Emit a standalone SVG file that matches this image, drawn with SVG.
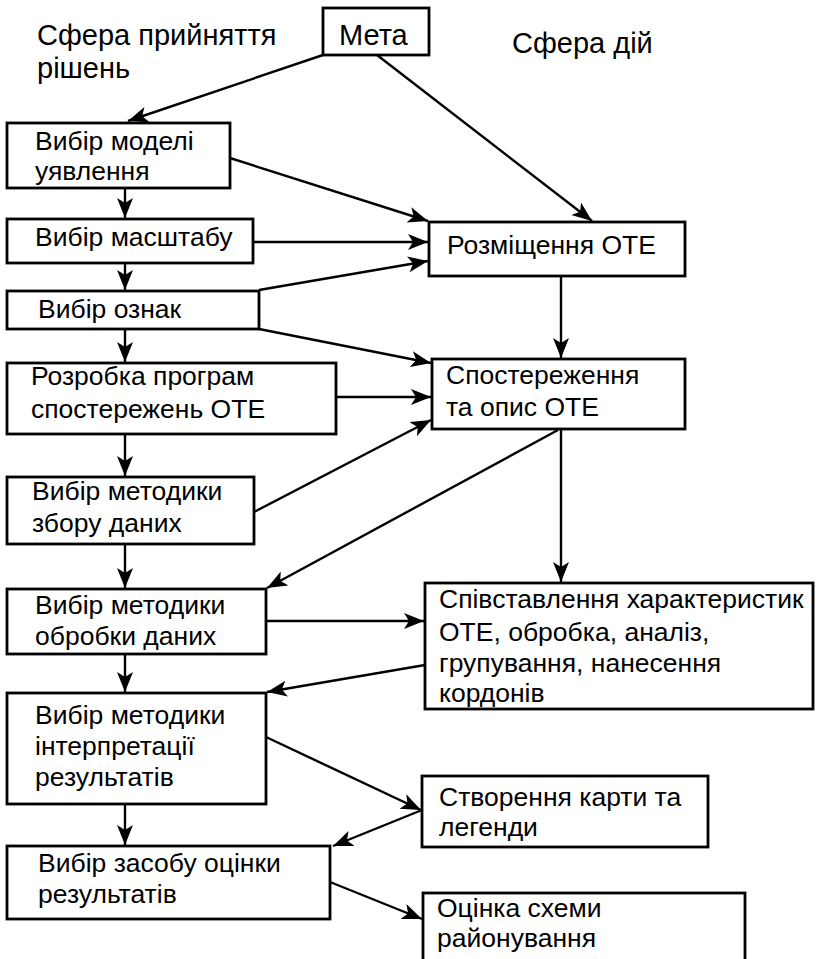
<svg xmlns="http://www.w3.org/2000/svg" width="816" height="959" viewBox="0 0 816 959">
<defs>
<marker id="ah" markerUnits="userSpaceOnUse" markerWidth="22" markerHeight="18" refX="20" refY="8" orient="auto">
<path d="M0,0 L20,8 L0,16 L5,8 z" fill="#000"/>
</marker>
<style>
text{font-family:"Liberation Sans",Arial,sans-serif;font-size:26.5px;fill:#000}
.h{font-size:29px}
rect{fill:#fff;stroke:#000;stroke-width:2.8}
#connectors line{stroke:#000;stroke-width:2.4;marker-end:url(#ah)}
</style>
</defs>
<rect x="0" y="0" width="816" height="959" style="fill:#fff;stroke:none"/>
<text class="h" x="37" y="45">Сфера прийняття</text>
<text class="h" x="37" y="78">рішень</text>
<text class="h" x="512" y="53">Сфера дій</text>

<g id="connectors">
<line x1="323" y1="55" x2="128" y2="121"/>
<line x1="377" y1="55" x2="592" y2="221"/>
<line x1="230" y1="158" x2="428" y2="221"/>
<line x1="253" y1="242" x2="428" y2="242"/>
<line x1="259" y1="290" x2="428" y2="261"/>
<line x1="259" y1="329" x2="431" y2="363"/>
<line x1="336" y1="397" x2="431" y2="397"/>
<line x1="254" y1="512" x2="431" y2="420"/>
<line x1="561" y1="276" x2="561" y2="358"/>
<line x1="561" y1="429" x2="561" y2="582"/>
<line x1="558" y1="430" x2="267" y2="588"/>
<line x1="266" y1="621" x2="424" y2="621"/>
<line x1="425" y1="665" x2="267" y2="692"/>
<line x1="266" y1="737" x2="421" y2="810"/>
<line x1="422" y1="810" x2="333" y2="846"/>
<line x1="330" y1="882" x2="422" y2="919"/>
<line x1="125" y1="188" x2="125" y2="218"/>
<line x1="125" y1="263" x2="125" y2="290"/>
<line x1="125" y1="329" x2="125" y2="362"/>
<line x1="125" y1="434" x2="125" y2="476"/>
<line x1="125" y1="544" x2="125" y2="588"/>
<line x1="125" y1="654" x2="125" y2="692"/>
<line x1="125" y1="804" x2="125" y2="845"/>
</g>

<g id="meta"><rect x="323" y="8" width="106" height="47"/><text class="h" x="339" y="45">Мета</text></g>
<g id="model"><rect x="7" y="123" width="223" height="65"/><text x="35" y="150">Вибір моделі</text><text x="35" y="180">уявлення</text></g>
<g id="scale"><rect x="7" y="219" width="246" height="44"/><text x="35" y="246">Вибір масштабу</text></g>
<g id="features"><rect x="7" y="291" width="252" height="38"/><text x="38" y="318">Вибір ознак</text></g>
<g id="programs"><rect x="7" y="363" width="329" height="71"/><text x="31" y="385">Розробка програм</text><text x="31" y="418">спостережень ОТЕ</text></g>
<g id="collect"><rect x="7" y="477" width="247" height="67"/><text x="32" y="500">Вибір методики</text><text x="32" y="532">збору даних</text></g>
<g id="process"><rect x="7" y="589" width="259" height="65"/><text x="35" y="614">Вибір методики</text><text x="35" y="645">обробки даних</text></g>
<g id="interpret"><rect x="7" y="693" width="259" height="111"/><text x="35" y="724">Вибір методики</text><text x="35" y="755">інтерпретації</text><text x="35" y="786">результатів</text></g>
<g id="evaluate"><rect x="7" y="846" width="323" height="73"/><text x="38" y="872">Вибір засобу оцінки</text><text x="38" y="903">результатів</text></g>
<g id="placement"><rect x="429" y="222" width="256" height="54"/><text x="447" y="254">Розміщення ОТЕ</text></g>
<g id="observe"><rect x="432" y="359" width="253" height="70"/><text x="446" y="384">Спостереження</text><text x="446" y="416">та опис ОТЕ</text></g>
<g id="compare"><rect x="425" y="583" width="388" height="126"/><text x="439" y="608">Співставлення характеристик</text><text x="439" y="641">ОТЕ, обробка, аналіз,</text><text x="439" y="672">групування, нанесення</text><text x="439" y="702">кордонів</text></g>
<g id="map"><rect x="422" y="776" width="286" height="71"/><text x="439" y="806">Створення карти та</text><text x="439" y="836">легенди</text></g>
<g id="assess"><rect x="423" y="893" width="322" height="70"/><text x="437" y="917">Оцінка схеми</text><text x="437" y="947">районування</text></g>
</svg>
